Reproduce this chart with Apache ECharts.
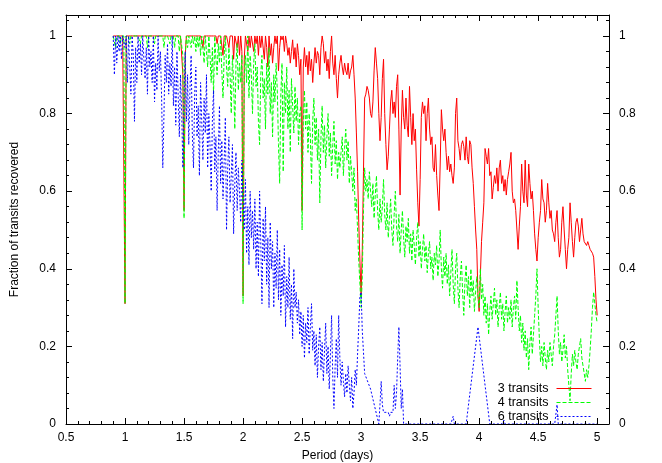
<!DOCTYPE html>
<html><head><meta charset="utf-8">
<script src="https://cdn.jsdelivr.net/npm/echarts@6/dist/echarts.min.js"></script>
<style>html,body{margin:0;padding:0;background:#fff}#c{width:662px;height:463px}</style>
</head><body><div id="c"></div>
<script>
const periods = [
0.90,0.91,0.92,0.93,0.94,0.95,0.96,0.97,0.98,0.99,
1.00,1.01,1.02,1.03,1.04,1.05,1.06,1.07,1.08,1.09,
1.10,1.11,1.12,1.13,1.14,1.15,1.16,1.17,1.18,1.19,
1.20,1.21,1.22,1.23,1.24,1.25,1.26,1.27,1.28,1.29,
1.30,1.31,1.32,1.33,1.34,1.35,1.36,1.37,1.38,1.39,
1.40,1.41,1.42,1.43,1.44,1.45,1.46,1.47,1.48,1.49,
1.50,1.51,1.52,1.53,1.54,1.55,1.56,1.57,1.58,1.59,
1.60,1.61,1.62,1.63,1.64,1.65,1.66,1.67,1.68,1.69,
1.70,1.71,1.72,1.73,1.74,1.75,1.76,1.77,1.78,1.79,
1.80,1.81,1.82,1.83,1.84,1.85,1.86,1.87,1.88,1.89,
1.90,1.91,1.92,1.93,1.94,1.95,1.96,1.97,1.98,1.99,
2.00,2.01,2.02,2.03,2.04,2.05,2.06,2.07,2.08,2.09,
2.10,2.11,2.12,2.13,2.14,2.15,2.16,2.17,2.18,2.19,
2.20,2.21,2.22,2.23,2.24,2.25,2.26,2.27,2.28,2.29,
2.30,2.31,2.32,2.33,2.34,2.35,2.36,2.37,2.38,2.39,
2.40,2.41,2.42,2.43,2.44,2.45,2.46,2.47,2.48,2.49,
2.50,2.51,2.52,2.53,2.54,2.55,2.56,2.57,2.58,2.59,
2.60,2.61,2.62,2.63,2.64,2.65,2.66,2.67,2.68,2.69,
2.70,2.71,2.72,2.73,2.74,2.75,2.76,2.77,2.78,2.79,
2.80,2.81,2.82,2.83,2.84,2.85,2.86,2.87,2.88,2.89,
2.90,2.91,2.92,2.93,2.94,2.95,2.96,2.97,2.98,2.99,
3.00,3.01,3.02,3.03,3.04,3.05,3.06,3.07,3.08,3.09,
3.10,3.11,3.12,3.13,3.14,3.15,3.16,3.17,3.18,3.19,
3.20,3.21,3.22,3.23,3.24,3.25,3.26,3.27,3.28,3.29,
3.30,3.31,3.32,3.33,3.34,3.35,3.36,3.37,3.38,3.39,
3.40,3.41,3.42,3.43,3.44,3.45,3.46,3.47,3.48,3.49,
3.50,3.51,3.52,3.53,3.54,3.55,3.56,3.57,3.58,3.59,
3.60,3.61,3.62,3.63,3.64,3.65,3.66,3.67,3.68,3.69,
3.70,3.71,3.72,3.73,3.74,3.75,3.76,3.77,3.78,3.79,
3.80,3.81,3.82,3.83,3.84,3.85,3.86,3.87,3.88,3.89,
3.90,3.91,3.92,3.93,3.94,3.95,3.96,3.97,3.98,3.99,
4.00,4.01,4.02,4.03,4.04,4.05,4.06,4.07,4.08,4.09,
4.10,4.11,4.12,4.13,4.14,4.15,4.16,4.17,4.18,4.19,
4.20,4.21,4.22,4.23,4.24,4.25,4.26,4.27,4.28,4.29,
4.30,4.31,4.32,4.33,4.34,4.35,4.36,4.37,4.38,4.39,
4.40,4.41,4.42,4.43,4.44,4.45,4.46,4.47,4.48,4.49,
4.50,4.51,4.52,4.53,4.54,4.55,4.56,4.57,4.58,4.59,
4.60,4.61,4.62,4.63,4.64,4.65,4.66,4.67,4.68,4.69,
4.70,4.71,4.72,4.73,4.74,4.75,4.76,4.77,4.78,4.79,
4.80,4.81,4.82,4.83,4.84,4.85,4.86,4.87,4.88,4.89,
4.90,4.91,4.92,4.93,4.94,4.95,4.96,4.97,4.98,4.99,
5.00];

const transits3 = [
1,1,1,1,1,1,1,1,1,1,
0.31,1,1,1,1,1,1,1,1,1,
1,1,1,1,1,1,1,1,1,1,
1,1,1,1,1,1,1,1,1,1,
1,1,1,1,1,1,1,1,1,1,
1,1,1,1,1,1,1,1,1,0.9,
0.55,0.95,1,1,1,1,1,1,1,1,
1,1,1,1,1,1,0.97,1,1,1,
1,1,1,1,1,1,1,1,0.98,1,
1,1,1,0.95,1,1,1,1,0.97,1,
1,1,0.94,1,1,0.97,1,0.95,1,0.96,
0.33,0.94,1,1,0.96,1,0.97,1,1,0.96,
1,0.98,1,0.95,1,0.97,1,1,0.94,1,
0.97,0.92,1,0.95,0.98,0.93,0.97,1,0.98,1,
0.91,0.97,1,0.99,1,0.96,1,0.98,0.95,0.97,
0.93,0.96,0.99,0.94,0.97,0.92,0.98,0.95,0.90,0.94,
0.55,0.92,0.97,0.92,0.95,0.90,0.96,0.91,0.94,0.88,
0.93,0.97,0.93,0.96,0.95,0.90,0.97,1,0.98,0.93,
0.96,0.91,0.94,0.89,0.96,1,0.93,0.90,0.95,0.89,
0.84,0.90,0.93,0.95,0.92,0.90,0.93,0.91,0.90,0.93,
0.89,0.91,0.92,0.95,0.90,0.84,0.75,0.65,0.52,0.42,
0.33,0.45,0.65,0.84,0.85,0.87,0.86,0.84,0.80,0.79,
0.83,0.91,0.97,0.93,0.89,0.80,0.73,0.79,0.89,0.94,
0.80,0.72,0.655,0.69,0.76,0.83,0.86,0.80,0.83,0.79,
0.87,0.90,0.76,0.59,0.76,0.86,0.79,0.76,0.84,0.77,
0.74,0.87,0.79,0.72,0.80,0.73,0.76,0.655,0.57,0.51,
0.63,0.79,0.83,0.80,0.82,0.73,0.80,0.84,0.76,0.72,
0.74,0.66,0.65,0.72,0.64,0.59,0.55,0.67,0.81,0.76,
0.73,0.76,0.70,0.655,0.69,0.65,0.67,0.64,0.62,0.66,
0.80,0.84,0.73,0.71,0.68,0.72,0.73,0.715,0.68,0.74,
0.69,0.67,0.73,0.72,0.66,0.62,0.56,0.50,0.45,0.33,
0.29,0.38,0.47,0.52,0.57,0.71,0.69,0.67,0.71,0.64,
0.65,0.58,0.61,0.64,0.62,0.66,0.60,0.66,0.68,0.62,
0.64,0.60,0.63,0.59,0.63,0.65,0.67,0.70,0.60,0.57,
0.58,0.55,0.50,0.45,0.51,0.56,0.67,0.60,0.57,0.68,
0.59,0.56,0.67,0.62,0.58,0.60,0.55,0.49,0.45,0.42,
0.48,0.52,0.55,0.63,0.58,0.57,0.52,0.55,0.62,0.57,
0.53,0.55,0.50,0.49,0.47,0.52,0.55,0.48,0.43,0.45,
0.52,0.56,0.50,0.45,0.40,0.45,0.48,0.57,0.52,0.47,
0.43,0.48,0.52,0.53,0.51,0.47,0.50,0.53,0.49,0.47,
0.47,0.46,0.47,0.46,0.45,0.45,0.44,0.43,0.38,0.32,
0.28];

const transits4 = [
1,1,0.97,1,1,1,0.98,1,1,1,
0.31,1,1,1,0.98,1,1,1,1,1,
1,1,1,0.98,1,1,1,1,1,0.97,
1,1,1,1,1,0.98,1,1,1,1,
1,1,1,0.97,1,1,1,1,0.98,1,
1,1,0.97,1,1,1,0.96,1,1,0.95,
0.53,0.95,1,0.97,1,1,0.97,1,0.98,1,
0.96,1,0.97,1,0.95,1,0.97,0.93,1,0.96,
0.92,1,0.95,0.88,0.97,0.85,1,0.94,0.90,0.98,
0.93,1,0.91,0.84,0.95,1,0.92,0.87,0.97,0.90,
0.80,0.95,0.88,0.76,0.93,0.98,0.86,0.93,0.88,0.95,
0.31,0.90,0.95,0.88,1,0.84,0.95,0.90,0.80,0.93,
0.98,0.87,0.92,0.78,0.72,0.90,0.95,0.84,0.89,0.76,
0.93,0.85,0.97,0.80,0.88,0.74,0.90,0.83,0.93,0.86,
0.72,0.62,0.85,0.93,0.65,0.88,0.80,0.92,0.76,0.86,
0.70,0.89,0.82,0.75,0.87,0.78,0.84,0.72,0.80,0.82,
0.50,0.78,0.86,0.76,0.83,0.70,0.80,0.74,0.62,0.78,
0.84,0.72,0.79,0.68,0.76,0.57,0.74,0.82,0.70,0.77,
0.66,0.74,0.80,0.69,0.75,0.64,0.72,0.78,0.67,0.73,
0.63,0.70,0.66,0.70,0.74,0.64,0.71,0.76,0.68,0.73,
0.62,0.69,0.65,0.60,0.66,0.55,0.58,0.50,0.42,0.36,
0.30,0.38,0.55,0.66,0.60,0.63,0.58,0.65,0.60,0.56,
0.62,0.53,0.59,0.64,0.55,0.50,0.58,0.52,0.56,0.63,
0.54,0.50,0.57,0.48,0.53,0.58,0.50,0.46,0.54,0.60,
0.51,0.47,0.54,0.44,0.50,0.55,0.48,0.43,0.51,0.47,
0.53,0.44,0.49,0.42,0.50,0.46,0.41,0.48,0.52,0.43,
0.47,0.40,0.45,0.49,0.42,0.46,0.39,0.44,0.47,0.40,
0.43,0.37,0.44,0.41,0.46,0.38,0.42,0.50,0.40,0.35,
0.43,0.38,0.44,0.36,0.41,0.33,0.39,0.45,0.36,0.31,
0.40,0.44,0.35,0.30,0.38,0.42,0.34,0.28,0.37,0.41,
0.33,0.38,0.30,0.40,0.33,0.37,0.29,0.34,0.38,0.33,
0.30,0.40,0.32,0.36,0.28,0.33,0.26,0.31,0.23,0.29,
0.33,0.27,0.31,0.35,0.28,0.32,0.25,0.30,0.34,0.27,
0.31,0.24,0.29,0.33,0.26,0.30,0.27,0.32,0.25,0.30,
0.33,0.27,0.37,0.30,0.24,0.28,0.21,0.26,0.19,0.24,
0.17,0.22,0.14,0.21,0.25,0.18,0.23,0.28,0.33,0.40,
0.30,0.22,0.16,0.20,0.15,0.21,0.17,0.14,0.19,0.16,
0.21,0.18,0.15,0.20,0.23,0.28,0.33,0.24,0.18,0.21,
0.16,0.19,0.23,0.17,0.20,0.14,0.10,0.06,0.13,0.18,
0.15,0.19,0.16,0.14,0.18,0.20,0.22,0.17,0.15,0.13,
0.11,0.14,0.12,0.15,0.19,0.24,0.30,0.34,0.31,0.28,
0.26];

const transits6 = [
1,0.90,1,0.93,1,0.96,1,0.94,1,1,
0.97,1,0.88,1,0.92,0.85,1,0.95,0.78,0.97,
0.88,1,0.93,0.98,0.90,1,0.94,0.89,0.97,0.85,
1,0.92,0.96,0.88,1,0.83,0.93,0.86,1,0.91,
0.96,0.84,0.66,0.80,0.95,0.88,0.98,0.85,0.93,0.87,
1,0.82,0.92,0.77,0.96,0.85,0.74,0.90,0.80,0.66,
0.84,0.96,0.78,0.90,0.72,0.86,0.95,0.75,0.66,0.85,
0.92,0.74,0.82,0.64,0.88,0.78,0.68,0.84,0.75,0.90,
0.66,0.80,0.72,0.60,0.78,0.86,0.65,0.74,0.55,0.70,
0.82,0.62,0.73,0.58,0.68,0.79,0.50,0.66,0.74,0.57,
0.64,0.72,0.49,0.62,0.70,0.55,0.66,0.60,0.52,0.68,
0.58,0.50,0.63,0.44,0.56,0.41,0.60,0.48,0.55,0.45,
0.58,0.40,0.52,0.38,0.60,0.47,0.31,0.53,0.42,0.56,
0.36,0.48,0.30,0.52,0.40,0.47,0.30,0.44,0.35,0.50,
0.32,0.45,0.28,0.41,0.33,0.46,0.25,0.38,0.30,0.43,
0.27,0.36,0.22,0.40,0.30,0.34,0.26,0.32,0.23,0.29,
0.20,0.28,0.17,0.26,0.21,0.30,0.18,0.25,0.31,0.19,
0.24,0.15,0.23,0.12,0.20,0.25,0.14,0.21,0.11,0.19,
0.26,0.13,0.20,0.09,0.18,0.28,0.12,0.04,0.15,0.22,
0.12,0.28,0.17,0.10,0.16,0.11,0.07,0.13,0.08,0.15,
0.10,0.06,0.12,0.04,0.08,0.14,0.10,0.18,0.25,0.33,
0.34,0.24,null,0.13,null,null,null,null,0.09,null,
null,null,null,null,null,0,0.05,0.11,0.05,0.03,
0.03,0.03,0.03,0.03,0.02,0.03,0.03,0.03,0.10,0.04,
0.08,0.17,0.25,0.15,0.04,0.09,0,0,0,0,
0,0,0,0,0,0,0,0,0,0,
0,0,0,0,0,0,0,0,0,0,
0,0,0,0,0,0,0,0,0,0,
0,0,0,0,0,0,0,0,0.02,0,
0,0,0,0,0,0,0,0,0,0,
0,null,null,null,null,null,null,null,null,0.25,
0.25,null,null,null,null,null,null,null,null,0,
0,0,0,0,0,0,0,0,0,0,
0,0.01,0,0,0,0,0,0,0,0,
0,0,0,0,0,0,0,0,0,0,
0,0,0,0,0,0,0,0,0,0,
0,0,0,0,0,0,0,0,0,0,
0,0,0,0,0,0,0.05,0,0,0,
0,0,0,0,0,0,0,0,0,0,
0,0,0,0,0,0,0,0,0,0,
0,0,0,0,0,0,0,0,0,0,
0];

const seriesNames = ['3 transits', '4 transits', '6 transits'];
const seriesColors = ['#ff0000', '#00ff00', '#0000ff'];
const xTickLabels = ['0.5','1','1.5','2','2.5','3','3.5','4','4.5','5'];
const yTickLabels = ['0','0.2','0.4','0.6','0.8','1'];

[transits3, transits4, transits6].forEach((a, i) => {
  if (a.length !== periods.length) throw new Error('length mismatch ' + i + ': ' + a.length + ' vs ' + periods.length);
});

const FONT = '"Liberation Sans", Arial, Helvetica, sans-serif';
function pairs(ys) { return periods.map((x, i) => [x, ys[i]]); }
function fmt(list) { return v => { const s = String(+(+v).toFixed(2)); return list.indexOf(s) >= 0 ? s : ''; }; }

const black = { color: '#000', width: 1 };
function xAx(pos, major, labels) {
  return {
    type: 'value', min: 0.5, max: 5.1, interval: major ? 0.5 : 0.1, position: pos, z: 10,
    axisLine: { show: major, onZero: false, lineStyle: black },
    axisTick: { show: true, inside: true, length: major ? 6 : 3, lineStyle: black },
    axisLabel: labels ? { show: true, formatter: fmt(xTickLabels), color: '#000', fontSize: 12, fontFamily: FONT, margin: 8 } : { show: false },
    splitLine: { show: false }
  };
}
function yAx(pos, major, labels) {
  return {
    type: 'value', min: 0, max: 1.054, interval: major ? 0.2 : 0.04, position: pos, z: 10,
    axisLine: { show: major, onZero: false, lineStyle: black },
    axisTick: { show: true, inside: true, length: major ? 6 : 3, lineStyle: black },
    axisLabel: labels ? { show: true, formatter: fmt(yTickLabels), color: '#000', fontSize: 12, fontFamily: FONT, margin: 10 } : { show: false },
    splitLine: { show: false }
  };
}

const xAxes = [xAx('bottom', true, true), xAx('top', true, false), xAx('bottom', false, false), xAx('top', false, false)];
xAxes[0].name = 'Period (days)';
xAxes[0].nameLocation = 'middle';
xAxes[0].nameGap = 26;
xAxes[0].nameTextStyle = { color: '#000', fontSize: 12, fontFamily: FONT };
const yAxes = [yAx('left', true, true), yAx('right', true, true), yAx('left', false, false), yAx('right', false, false)];
yAxes[0].name = 'Fraction of transits recovered';
yAxes[0].nameLocation = 'middle';
yAxes[0].nameGap = 45;
yAxes[0].nameTextStyle = { color: '#000', fontSize: 12, fontFamily: FONT };

const dashes = ['solid', [4, 2], [2, 2]];
const allData = [transits3, transits4, transits6];

const chart = echarts.init(document.getElementById('c'), null, { renderer: 'canvas' });
chart.setOption({
  animation: false,
  backgroundColor: '#fff',
  textStyle: { fontFamily: FONT },
  grid: { left: 66, right: 53, top: 15, bottom: 39, containLabel: false, outerBoundsMode: 'none' },
  xAxis: xAxes,
  yAxis: yAxes,
  legend: {
    orient: 'vertical', right: 70, top: 382, align: 'right', padding: 0,
    itemWidth: 35, itemHeight: 10, itemGap: 1,
    itemStyle: { opacity: 0, borderWidth: 0, color: 'transparent', borderColor: 'transparent' },
    lineStyle: { width: 1 },
    textStyle: { fontSize: 12.5, color: '#000', fontFamily: FONT, lineHeight: 12, padding: [0, 3, 0, 0] },
    data: seriesNames
  },
  series: seriesNames.map((n, i) => ({
    name: n, type: 'line', xAxisIndex: 0, yAxisIndex: 0,
    data: pairs(allData[i]), symbol: 'none', showSymbol: false,
    connectNulls: true, clip: true,
    lineStyle: { color: seriesColors[i], width: 1, type: dashes[i] },
    itemStyle: { color: seriesColors[i] }
  }))
});
</script></body></html>
